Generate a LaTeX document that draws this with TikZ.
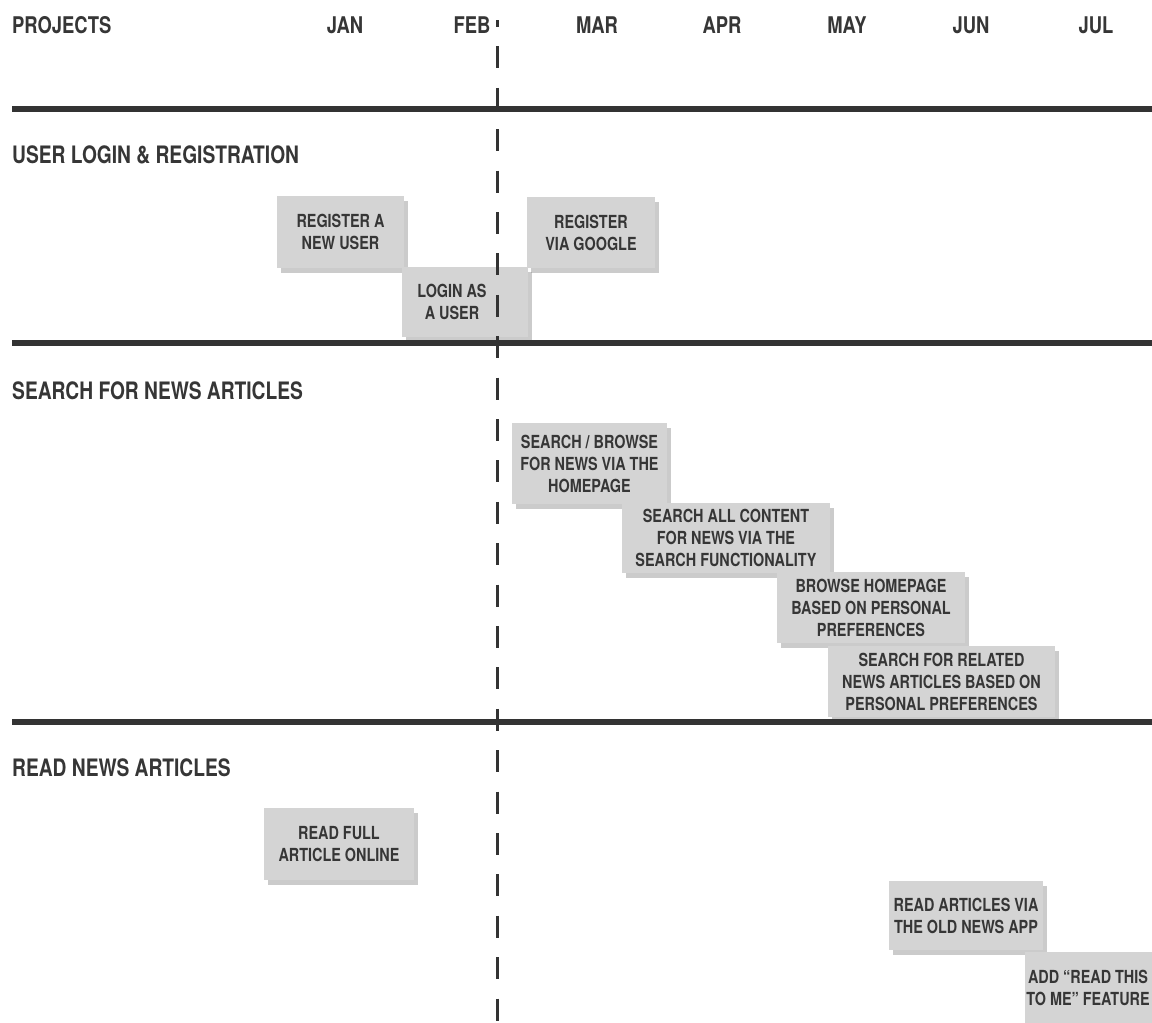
\documentclass[tikz,border=0pt]{standalone}
\usepackage{fontspec}
\setmainfont{TeX Gyre Heros}[FakeStretch=0.8]
\usetikzlibrary{shadows}
\definecolor{ink}{HTML}{333333}
\definecolor{txt}{HTML}{363636}
\definecolor{boxgray}{HTML}{D4D4D4}
\begin{document}
\begin{tikzpicture}[x=1pt,y=-1pt,
  heading/.style={font=\bfseries\fontsize{23}{26}\selectfont, text=txt, inner sep=0pt, anchor=base west},
  section/.style={heading, font=\bfseries\fontsize{24}{27}\selectfont},
  month/.style={font=\bfseries\fontsize{23}{26}\selectfont, text=txt, inner sep=0pt, anchor=base},
  rule/.style={ink, line width=5.5pt},
  today/.style={ink, line width=3pt, dash pattern=on 22pt off 19.4pt, dash phase=15pt},
  task/.style={fill=boxgray, text=txt, font=\bfseries\fontsize{18}{22}\selectfont,
    align=center, inner sep=0pt,
    drop shadow={shadow xshift=4pt, shadow yshift=-5pt, fill=black!45, opacity=.45}},
  tasktext/.style={text=txt, font=\bfseries\fontsize{18}{22}\selectfont, align=center, inner sep=0pt},
]
\clip (0,0) rectangle (1152,1023);
\fill[white] (0,0) rectangle (1152,1023);

% column headings
\node[heading] (projects) at (12,33) {PROJECTS};
\node[month] (jan) at (345,33) {JAN};
\node[month] (feb) at (472,33) {FEB};
\node[month] (mar) at (597,33) {MAR};
\node[month] (apr) at (722,33) {APR};
\node[month] (may) at (847,33) {MAY};
\node[month] (jun) at (971,33) {JUN};
\node[month] (jul) at (1096,33) {JUL};

% section titles
\node[section] (sec1) at (12,163) {USER LOGIN \& REGISTRATION};
\node[section] (sec2) at (12,399) {SEARCH FOR NEWS ARTICLES};
\node[section] (sec3) at (12,776) {READ NEWS ARTICLES};

% user login & registration
\node[task, minimum width=127pt, minimum height=72pt] (reg) at (340.5,232) {REGISTER A\\NEW USER};
\node[task, minimum width=126pt, minimum height=70pt] (login) at (465,302) {LOGIN AS\hspace*{26pt}\\A USER\hspace*{26pt}};
\node[task, minimum width=128pt, minimum height=71pt] (google) at (591,232.5) {REGISTER\\VIA GOOGLE};

% search for news articles
\node[task, minimum width=155pt, minimum height=81pt] (browse) at (589.5,463.5) {SEARCH / BROWSE\\FOR NEWS VIA THE\\HOMEPAGE};
\node[task, minimum width=208pt, minimum height=70pt] (searchall) at (726,538) {SEARCH ALL CONTENT\\FOR NEWS VIA THE\\SEARCH FUNCTIONALITY};
\node[task, minimum width=188pt, minimum height=71pt] (personal) at (871,607.5) {BROWSE HOMEPAGE\\BASED ON PERSONAL\\PREFERENCES};
\node[task, minimum width=227pt, minimum height=71pt] (related) at (941.5,681.5) {SEARCH FOR RELATED\\NEWS ARTICLES BASED ON\\PERSONAL PREFERENCES};

% read news articles
\node[task, minimum width=150pt, minimum height=72pt] (readfull) at (339,844) {READ FULL\\ARTICLE ONLINE};
\node[task, minimum width=154pt, minimum height=69pt] (oldapp) at (966,915.5) {READ ARTICLES VIA\\THE OLD NEWS APP};
\fill[boxgray] (1025,952) rectangle (1170,1035);
\node[tasktext] (readme) at (1088,988) {ADD “READ THIS\\TO ME” FEATURE};

% section rules
\coordinate (r1a) at (12,109);  \coordinate (r1b) at (1152,109);
\coordinate (r2a) at (12,343);  \coordinate (r2b) at (1152,343);
\coordinate (r3a) at (12,722);  \coordinate (r3b) at (1152,722);
\draw[rule] (r1a) -- (r1b);
\draw[rule] (r2a) -- (r2b);
\draw[rule] (r3a) -- (r3b);

% current date marker
\coordinate (nowtop) at (497.5,20);
\coordinate (nowbot) at (497.5,1023);
\draw[today] (nowtop) -- (nowbot);
\end{tikzpicture}
\end{document}
